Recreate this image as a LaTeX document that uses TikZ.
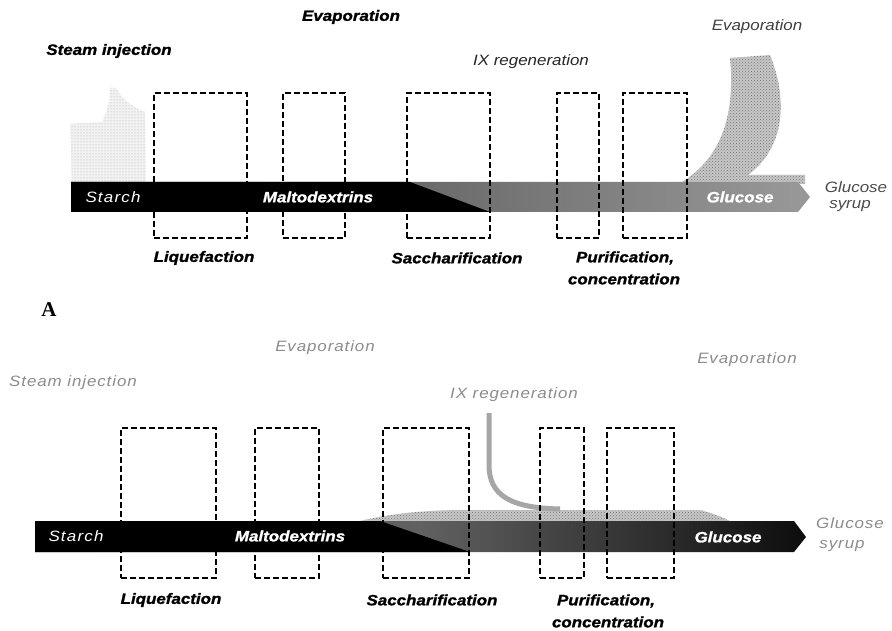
\documentclass[tikz,border=0pt]{standalone}
\usepackage{fontspec}
\usetikzlibrary{patterns}
\setmainfont{Liberation Sans}[FakeStretch=1.13, BoldFeatures={FakeBold=1.2}, BoldItalicFeatures={FakeBold=1.2}]
\newfontfamily\serifA{Liberation Serif}
\begin{document}
\begin{tikzpicture}[x=1pt,y=-1pt,
  lab/.style={font=\fontsize{15}{17}\selectfont\bfseries\itshape, inner sep=0pt},
  ilab/.style={font=\fontsize{15}{17}\selectfont\itshape, inner sep=0pt},
  glab/.style={font=\fontsize{15}{17}\selectfont\itshape\addfontfeature{LetterSpace=6}, text=black!45, inner sep=0pt},
  inbar/.style={font=\fontsize{15}{17}\selectfont\bfseries\itshape, text=white, inner sep=0pt},
  instarch/.style={font=\fontsize{15}{17}\selectfont\itshape\addfontfeature{LetterSpace=8}, text=white, inner sep=0pt},
  dbox/.style={draw=black, dash pattern=on 6pt off 3pt, line width=1.4pt, inner sep=0pt},
  plume/.style={fill=black!22, draw=none, postaction={pattern=crosshatch dots, pattern color=black!55}},
  faint/.style={fill=black!5, draw=none, postaction={pattern=dots, pattern color=black!35}}]
\useasboundingbox (0,0) rectangle (892,631);
\fill[white] (0,0) rectangle (892,631);

% ================= TOP PANEL =================
% plumes
\path[faint] (72,182) -- (70,124) -- (102,122) .. controls (108,110) and (110,98) .. (110,88)
  -- (116,88) .. controls (122,100) and (135,108) .. (145,112) -- (146,182) -- cycle;
\path[plume] (682,182) .. controls (718,160) and (736,120) .. (730,58)
  -- (770,55) .. controls (790,105) and (782,150) .. (748,175)
  -- (805,175) -- (805,184) -- cycle;
% bar
\shade[left color=black!75, right color=black!40]
  (71,182) -- (798,182) -- (810,197) -- (798,212) -- (71,212) -- cycle;
\fill[black] (71,182) -- (410,182) -- (490,212) -- (71,212) -- cycle;
\coordinate (tipA) at (810,197);

% boxes
\node[dbox, minimum width=93pt, minimum height=145pt] (b11) at (200.5,165.5) {};
\node[dbox, minimum width=62pt, minimum height=145pt] (b12) at (314,165.5) {};
\node[dbox, minimum width=83pt, minimum height=145pt] (b13) at (448.5,165.5) {};
\node[dbox, minimum width=42pt, minimum height=145pt] (b14) at (578,165.5) {};
\node[dbox, minimum width=64pt, minimum height=145pt] (b15) at (655,165.5) {};

% texts
\node[lab] (ev1) at (351,17) {Evaporation};
\node[lab] (si1) at (109,51) {Steam injection};
\node[ilab, text=black!85] (ix1) at (531,62) {IX regeneration};
\node[ilab, text=black!75] (ev2) at (757,27) {Evaporation};
\node[instarch] (st1) at (113,197) {Starch};
\node[inbar] (md1) at (318,197) {Maltodextrins};
\node[inbar] (gl1) at (740,197) {Glucose};
\node[lab] (lq1) at (204,258) {Liquefaction};
\node[lab] (sa1) at (457,258) {Saccharification};
\node[lab] (pu1) at (625,258) {Purification,};
\node[lab] (co1) at (624,279) {concentration};
\node[ilab, text=black!70] (gs1) at (856,187) {Glucose};
\node[ilab, text=black!70] (sy1) at (850,206) {syrup};

\node[font=\serifA\fontsize{21}{22}\selectfont\bfseries, inner sep=0pt] (A) at (49,310) {A};

% ================= BOTTOM PANEL =================
% light stream on top of bar
\path[plume] (360,521) .. controls (390,514) and (420,510) .. (470,510) -- (700,510) .. controls (712,513) and (722,517) .. (730,521) -- cycle;
% IX regeneration stream
\coordinate (ixs) at (489,413);
\coordinate (ixe) at (560,509);
\draw[black!35, line width=5pt] (ixs) -- (489,465) .. controls (489,495) and (510,508) .. (ixe);
% bar
\shade[left color=black!70, right color=black!95, middle color=black!62]
  (35,521) -- (794,521) -- (806,537) -- (794,552) -- (35,552) -- cycle;
\fill[black] (35,521) -- (380,521) -- (470,552) -- (35,552) -- cycle;
\coordinate (tipB) at (806,537);

% boxes
\node[dbox, minimum width=95pt, minimum height=150pt] (b21) at (168.5,503) {};
\node[dbox, minimum width=64pt, minimum height=150pt] (b22) at (287,503) {};
\node[dbox, minimum width=86pt, minimum height=150pt] (b23) at (426,503) {};
\node[dbox, minimum width=44pt, minimum height=150pt] (b24) at (562,503) {};
\node[dbox, minimum width=67pt, minimum height=150pt] (b25) at (640.5,503) {};

% texts
\node[glab] (ev3) at (325,348) {Evaporation};
\node[glab] (si2) at (73,383) {Steam injection};
\node[glab] (ix2) at (514,395) {IX regeneration};
\node[glab] (ev4) at (747,360) {Evaporation};
\node[instarch] (st2) at (76,536) {Starch};
\node[inbar] (md2) at (290,536) {Maltodextrins};
\node[inbar] (gl2) at (728,537) {Glucose};
\node[lab] (lq2) at (171,600) {Liquefaction};
\node[lab] (sa2) at (432,600) {Saccharification};
\node[lab] (pu2) at (606,601) {Purification,};
\node[lab] (co2) at (608,622) {concentration};
\node[glab] (gs2) at (850,523) {Glucose};
\node[glab] (sy2) at (842,546) {syrup};
\end{tikzpicture}
\end{document}
